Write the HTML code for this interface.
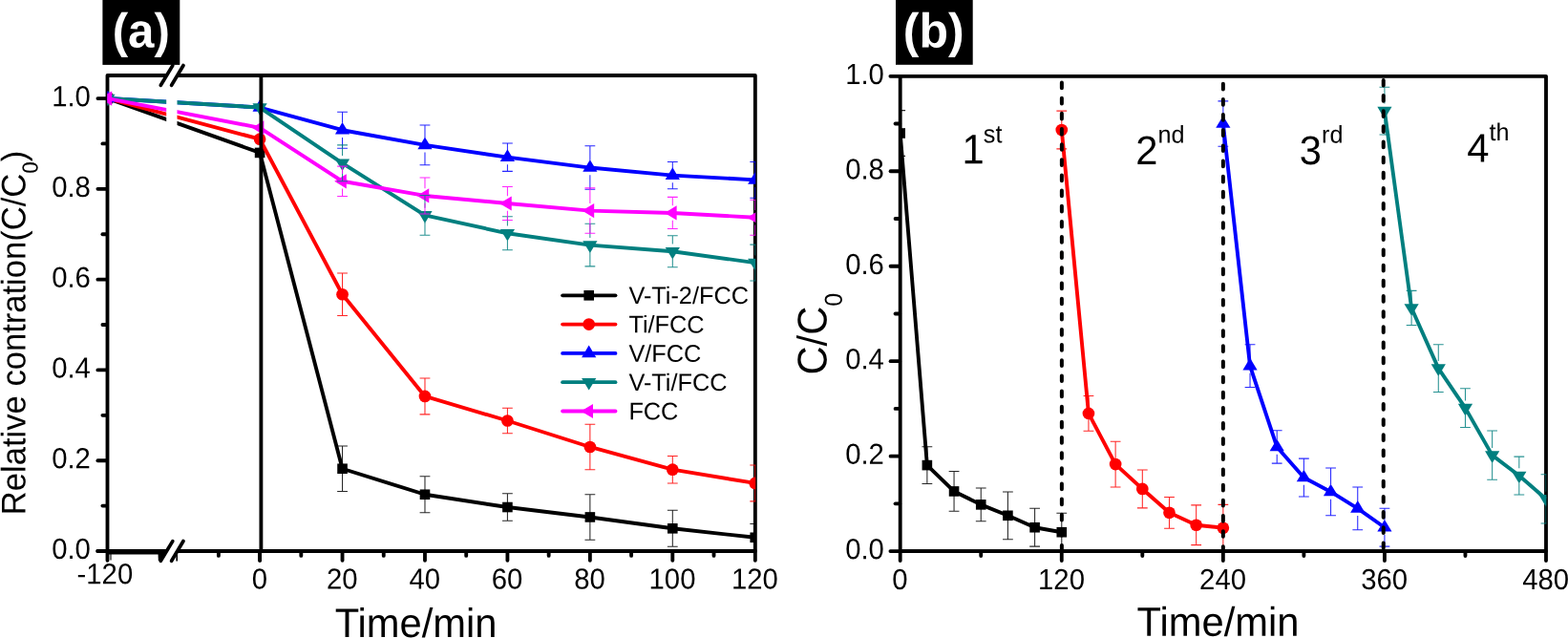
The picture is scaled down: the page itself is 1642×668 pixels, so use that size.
<!DOCTYPE html>
<html lang="en"><head><meta charset="utf-8"><title>Photocatalytic degradation curves</title>
<style>html,body{margin:0;padding:0;background:#fff}body{width:1642px;height:668px;overflow:hidden}svg{display:block}</style>
</head><body>
<svg width="1642" height="668" viewBox="0 0 1642 668" font-family='"Liberation Sans", sans-serif' fill="#000" text-rendering="geometricPrecision">
<rect width="1642" height="668" fill="#fff"/>
<defs>
<clipPath id="ca"><rect x="112.3" y="79.0" width="678.95" height="500.0"/></clipPath>
<clipPath id="cb"><rect x="942.5" y="79.8" width="676.9" height="499.3"/></clipPath>
</defs>
<g stroke="#000" stroke-width="3.85" fill="none" stroke-linecap="round" stroke-linejoin="round">
<path d="M112.5,586.7V79.0H790.85V586.7"/>
<path d="M102.2,577.0H790.85" stroke-linecap="round"/>
<path d="M272.10,577.0V586.7"/>
<path d="M102.4,577.00H111.9"/>
<path d="M107.4,529.61H111.9"/>
<path d="M102.4,482.21H111.9"/>
<path d="M107.4,434.81H111.9"/>
<path d="M102.4,387.42H111.9"/>
<path d="M107.4,340.02H111.9"/>
<path d="M102.4,292.63H111.9"/>
<path d="M107.4,245.24H111.9"/>
<path d="M102.4,197.84H111.9"/>
<path d="M107.4,150.44H111.9"/>
<path d="M102.4,103.05H111.9"/>
<path d="M228.88,577.6V581.9"/>
<path d="M272.10,577.6V586.7"/>
<path d="M315.32,577.6V581.9"/>
<path d="M358.54,577.6V586.7"/>
<path d="M401.76,577.6V581.9"/>
<path d="M444.98,577.6V586.7"/>
<path d="M488.20,577.6V581.9"/>
<path d="M531.42,577.6V586.7"/>
<path d="M574.65,577.6V581.9"/>
<path d="M617.87,577.6V586.7"/>
<path d="M661.09,577.6V581.9"/>
<path d="M704.31,577.6V586.7"/>
<path d="M747.53,577.6V581.9"/>
</g>
<path d="M112.5,577.8H171" stroke="#000" stroke-width="5.2" fill="none"/>
<polygon points="165.5,579 173.5,579 168.3,587.5 165.8,587" fill="#000"/>
<path d="M185.2,578V587.5" stroke="#000" stroke-width="1.6" fill="none"/>
<path d="M116,579V586.5" stroke="#000" stroke-width="1.1" fill="none"/>
<g clip-path="url(#ca)">
<polyline points="112.90,103.05 272.10,159.92 358.54,490.74 444.98,517.76 531.42,531.03 617.87,541.45 704.31,553.30 790.75,562.78" fill="none" stroke="#000" stroke-width="3.9" stroke-linejoin="round"/>
<rect x="107.60" y="97.75" width="10.60" height="10.60" fill="#000"/>
<rect x="266.80" y="154.62" width="10.60" height="10.60" fill="#000"/>
<rect x="353.24" y="485.44" width="10.60" height="10.60" fill="#000"/>
<rect x="439.68" y="512.46" width="10.60" height="10.60" fill="#000"/>
<rect x="526.12" y="525.73" width="10.60" height="10.60" fill="#000"/>
<rect x="612.57" y="536.15" width="10.60" height="10.60" fill="#000"/>
<rect x="699.01" y="548.00" width="10.60" height="10.60" fill="#000"/>
<rect x="785.45" y="557.48" width="10.60" height="10.60" fill="#000"/>
<polyline points="112.90,103.05 272.10,145.71 358.54,308.27 444.98,414.91 531.42,440.50 617.87,467.99 704.31,491.69 790.75,505.91" fill="none" stroke="#ff0000" stroke-width="3.9" stroke-linejoin="round"/>
<circle cx="112.90" cy="103.05" r="6.35" fill="#ff0000"/>
<circle cx="272.10" cy="145.71" r="6.35" fill="#ff0000"/>
<circle cx="358.54" cy="308.27" r="6.35" fill="#ff0000"/>
<circle cx="444.98" cy="414.91" r="6.35" fill="#ff0000"/>
<circle cx="531.42" cy="440.50" r="6.35" fill="#ff0000"/>
<circle cx="617.87" cy="467.99" r="6.35" fill="#ff0000"/>
<circle cx="704.31" cy="491.69" r="6.35" fill="#ff0000"/>
<circle cx="790.75" cy="505.91" r="6.35" fill="#ff0000"/>
<polyline points="112.90,103.05 272.10,112.53 358.54,136.23 444.98,151.87 531.42,164.66 617.87,175.56 704.31,183.62 790.75,188.36" fill="none" stroke="#0000ff" stroke-width="3.9" stroke-linejoin="round"/>
<polygon points="112.90,94.75 120.50,107.35 105.30,107.35" fill="#0000ff"/>
<polygon points="272.10,104.23 279.70,116.83 264.50,116.83" fill="#0000ff"/>
<polygon points="358.54,127.93 366.14,140.53 350.94,140.53" fill="#0000ff"/>
<polygon points="444.98,143.57 452.58,156.17 437.38,156.17" fill="#0000ff"/>
<polygon points="531.42,156.36 539.02,168.96 523.82,168.96" fill="#0000ff"/>
<polygon points="617.87,167.26 625.47,179.86 610.27,179.86" fill="#0000ff"/>
<polygon points="704.31,175.32 711.91,187.92 696.71,187.92" fill="#0000ff"/>
<polygon points="790.75,180.06 798.35,192.66 783.15,192.66" fill="#0000ff"/>
<polyline points="112.90,103.05 272.10,112.53 358.54,170.82 444.98,225.33 531.42,244.29 617.87,256.61 704.31,263.25 790.75,275.09" fill="none" stroke="#007f7f" stroke-width="3.9" stroke-linejoin="round"/>
<polygon points="112.90,111.35 120.50,98.75 105.30,98.75" fill="#007f7f"/>
<polygon points="272.10,120.83 279.70,108.23 264.50,108.23" fill="#007f7f"/>
<polygon points="358.54,179.12 366.14,166.52 350.94,166.52" fill="#007f7f"/>
<polygon points="444.98,233.63 452.58,221.03 437.38,221.03" fill="#007f7f"/>
<polygon points="531.42,252.59 539.02,239.99 523.82,239.99" fill="#007f7f"/>
<polygon points="617.87,264.91 625.47,252.31 610.27,252.31" fill="#007f7f"/>
<polygon points="704.31,271.55 711.91,258.95 696.71,258.95" fill="#007f7f"/>
<polygon points="790.75,283.39 798.35,270.79 783.15,270.79" fill="#007f7f"/>
<polyline points="112.90,103.05 272.10,133.86 358.54,189.78 444.98,204.95 531.42,213.01 617.87,220.59 704.31,222.96 790.75,227.70" fill="none" stroke="#ff00ff" stroke-width="3.9" stroke-linejoin="round"/>
<polygon points="104.60,103.05 117.20,95.45 117.20,110.65" fill="#ff00ff"/>
<polygon points="263.80,133.86 276.40,126.26 276.40,141.46" fill="#ff00ff"/>
<polygon points="350.24,189.78 362.84,182.18 362.84,197.38" fill="#ff00ff"/>
<polygon points="436.68,204.95 449.28,197.35 449.28,212.55" fill="#ff00ff"/>
<polygon points="523.12,213.01 535.72,205.41 535.72,220.61" fill="#ff00ff"/>
<polygon points="609.57,220.59 622.17,212.99 622.17,228.19" fill="#ff00ff"/>
<polygon points="696.01,222.96 708.61,215.36 708.61,230.56" fill="#ff00ff"/>
<polygon points="782.45,227.70 795.05,220.10 795.05,235.30" fill="#ff00ff"/>
<path d="M353.14,467.04H363.94M353.14,514.44H363.94M358.54,467.04V514.44" stroke="#000" stroke-width="1.05" fill="none" opacity="0.85"/>
<path d="M439.58,498.80H450.38M439.58,536.71H450.38M444.98,498.80V536.71" stroke="#000" stroke-width="1.05" fill="none" opacity="0.85"/>
<path d="M526.02,516.81H536.82M526.02,545.25H536.82M531.42,516.81V545.25" stroke="#000" stroke-width="1.05" fill="none" opacity="0.85"/>
<path d="M612.47,517.76H623.27M612.47,565.15H623.27M617.87,517.76V565.15" stroke="#000" stroke-width="1.05" fill="none" opacity="0.85"/>
<path d="M698.91,534.34H709.71M698.91,572.26H709.71M704.31,534.34V572.26" stroke="#000" stroke-width="1.05" fill="none" opacity="0.85"/>
<path d="M785.35,548.56H796.15M785.35,577.00H796.15M790.75,548.56V577.00" stroke="#000" stroke-width="1.05" fill="none" opacity="0.85"/>
<path d="M353.14,285.99H363.94M353.14,330.55H363.94M358.54,285.99V330.55" stroke="#ff0000" stroke-width="1.05" fill="none" opacity="0.85"/>
<path d="M439.58,395.95H450.38M439.58,433.87H450.38M444.98,395.95V433.87" stroke="#ff0000" stroke-width="1.05" fill="none" opacity="0.85"/>
<path d="M526.02,427.23H536.82M526.02,453.77H536.82M531.42,427.23V453.77" stroke="#ff0000" stroke-width="1.05" fill="none" opacity="0.85"/>
<path d="M612.47,444.29H623.27M612.47,491.69H623.27M617.87,444.29V491.69" stroke="#ff0000" stroke-width="1.05" fill="none" opacity="0.85"/>
<path d="M698.91,477.47H709.71M698.91,505.91H709.71M704.31,477.47V505.91" stroke="#ff0000" stroke-width="1.05" fill="none" opacity="0.85"/>
<path d="M785.35,486.95H796.15M785.35,524.87H796.15M790.75,486.95V524.87" stroke="#ff0000" stroke-width="1.05" fill="none" opacity="0.85"/>
<path d="M353.14,117.27H363.94M353.14,155.18H363.94M358.54,117.27V128.53M358.54,143.93V155.18" stroke="#0000ff" stroke-width="1.05" fill="none" opacity="0.85"/>
<path d="M439.58,131.01H450.38M439.58,172.72H450.38M444.98,131.01V144.17M444.98,159.57V172.72" stroke="#0000ff" stroke-width="1.05" fill="none" opacity="0.85"/>
<path d="M526.02,149.97H536.82M526.02,179.36H536.82M531.42,149.97V156.96M531.42,172.36V179.36" stroke="#0000ff" stroke-width="1.05" fill="none" opacity="0.85"/>
<path d="M612.47,152.81H623.27M612.47,198.31H623.27M617.87,152.81V167.86M617.87,183.26V198.31" stroke="#0000ff" stroke-width="1.05" fill="none" opacity="0.85"/>
<path d="M698.91,169.40H709.71M698.91,197.84H709.71M704.31,169.40V175.92M704.31,191.32V197.84" stroke="#0000ff" stroke-width="1.05" fill="none" opacity="0.85"/>
<path d="M785.35,169.40H796.15M785.35,207.32H796.15M790.75,169.40V180.66M790.75,196.06V207.32" stroke="#0000ff" stroke-width="1.05" fill="none" opacity="0.85"/>
<path d="M353.14,151.87H363.94M353.14,189.78H363.94M358.54,151.87V163.12M358.54,178.52V189.78" stroke="#007f7f" stroke-width="1.05" fill="none" opacity="0.85"/>
<path d="M439.58,204.48H450.38M439.58,246.18H450.38M444.98,204.48V217.63M444.98,233.03V246.18" stroke="#007f7f" stroke-width="1.05" fill="none" opacity="0.85"/>
<path d="M526.02,226.75H536.82M526.02,261.82H536.82M531.42,226.75V236.59M531.42,251.99V261.82" stroke="#007f7f" stroke-width="1.05" fill="none" opacity="0.85"/>
<path d="M612.47,234.33H623.27M612.47,278.89H623.27M617.87,234.33V248.91M617.87,264.31V278.89" stroke="#007f7f" stroke-width="1.05" fill="none" opacity="0.85"/>
<path d="M698.91,246.66H709.71M698.91,279.83H709.71M704.31,246.66V255.55M704.31,270.95V279.83" stroke="#007f7f" stroke-width="1.05" fill="none" opacity="0.85"/>
<path d="M785.35,256.14H796.15M785.35,294.05H796.15M790.75,256.14V267.39M790.75,282.79V294.05" stroke="#007f7f" stroke-width="1.05" fill="none" opacity="0.85"/>
<path d="M353.14,174.14H363.94M353.14,205.42H363.94M358.54,174.14V182.08M358.54,197.48V205.42" stroke="#ff00ff" stroke-width="1.05" fill="none" opacity="0.85"/>
<path d="M439.58,185.99H450.38M439.58,223.91H450.38M444.98,185.99V197.25M444.98,212.65V223.91" stroke="#ff00ff" stroke-width="1.05" fill="none" opacity="0.85"/>
<path d="M526.02,195.47H536.82M526.02,230.54H536.82M531.42,195.47V205.31M531.42,220.71V230.54" stroke="#ff00ff" stroke-width="1.05" fill="none" opacity="0.85"/>
<path d="M612.47,196.89H623.27M612.47,244.29H623.27M617.87,196.89V212.89M617.87,228.29V244.29" stroke="#ff00ff" stroke-width="1.05" fill="none" opacity="0.85"/>
<path d="M698.91,206.37H709.71M698.91,239.55H709.71M704.31,206.37V215.26M704.31,230.66V239.55" stroke="#ff00ff" stroke-width="1.05" fill="none" opacity="0.85"/>
<path d="M785.35,209.21H796.15M785.35,246.18H796.15M790.75,209.21V220.00M790.75,235.40V246.18" stroke="#ff00ff" stroke-width="1.05" fill="none" opacity="0.85"/>
</g>
<path d="M273.4,79.0V577.0" stroke="#000" stroke-width="3.85" fill="none"/>
<polygon points="174.2,95 185.5,95 185.5,270 174.2,270" fill="#fff"/>
<rect x="174.3" y="76.8" width="11" height="4.4" fill="#fff"/>
<g stroke="#000" stroke-width="3.7" stroke-linecap="round">
<path d="M168.3,89.3L180.8,68.6"/>
<path d="M179.6,89.3L192.0,68.5"/>
</g>
<rect x="174.3" y="574.8" width="11" height="4.4" fill="#fff"/>
<g stroke="#000" stroke-width="3.7" stroke-linecap="round">
<path d="M168.3,587.3L180.8,566.6"/>
<path d="M179.6,587.3L192.0,566.5"/>
</g>
<g>
<text transform="translate(94.90,585.10) rotate(0.03) scale(1.0,1.04)" font-size="29.3" text-anchor="end" >0.0</text>
<text transform="translate(94.90,490.31) rotate(0.03) scale(1.0,1.04)" font-size="29.3" text-anchor="end" >0.2</text>
<text transform="translate(94.90,395.52) rotate(0.03) scale(1.0,1.04)" font-size="29.3" text-anchor="end" >0.4</text>
<text transform="translate(94.90,300.73) rotate(0.03) scale(1.0,1.04)" font-size="29.3" text-anchor="end" >0.6</text>
<text transform="translate(94.90,205.94) rotate(0.03) scale(1.0,1.04)" font-size="29.3" text-anchor="end" >0.8</text>
<text transform="translate(94.90,111.15) rotate(0.03) scale(1.0,1.04)" font-size="29.3" text-anchor="end" >1.0</text>
<text transform="translate(271.80,616.60) rotate(0.03) scale(1.0,1.04)" font-size="29.3" text-anchor="middle" >0</text>
<text transform="translate(358.24,616.60) rotate(0.03) scale(1.0,1.04)" font-size="29.3" text-anchor="middle" >20</text>
<text transform="translate(444.68,616.60) rotate(0.03) scale(1.0,1.04)" font-size="29.3" text-anchor="middle" >40</text>
<text transform="translate(531.12,616.60) rotate(0.03) scale(1.0,1.04)" font-size="29.3" text-anchor="middle" >60</text>
<text transform="translate(617.57,616.60) rotate(0.03) scale(1.0,1.04)" font-size="29.3" text-anchor="middle" >80</text>
<text transform="translate(704.01,616.60) rotate(0.03) scale(1.0,1.04)" font-size="29.3" text-anchor="middle" >100</text>
<text transform="translate(790.45,616.60) rotate(0.03) scale(1.0,1.04)" font-size="29.3" text-anchor="middle" >120</text>
<text transform="translate(80.55,611.30) rotate(0.03) scale(1.0,1.04)" font-size="29.3" text-anchor="start" >-120</text>
</g>
<text transform="translate(435.60,667.00) rotate(0.03) scale(1.0,1.025)" font-size="41.7" text-anchor="middle" >Time/min</text>
<text transform="translate(26.50,348.40) rotate(-89.97) scale(1.0,1.03)" font-size="34.6" text-anchor="middle" >Relative contration(C/C<tspan font-size="22.5" dy="12.5">0</tspan><tspan dy="-12.5">)</tspan></text>
<rect x="107.4" y="0" width="80.9" height="67.9" fill="#000"/>
<text transform="translate(147.80,49.50) rotate(0.03) scale(1.025,1.06)" font-size="48" text-anchor="middle" font-weight="bold" fill="#fff">(a)</text>
<path d="M589.1,309.30H644.5" stroke="#000" stroke-width="3.8" stroke-linecap="round"/>
<rect x="611.40" y="304.00" width="10.60" height="10.60" fill="#000"/>
<text transform="translate(658.40,318.05) rotate(0.03) scale(1.0,1.0)" font-size="25.3" text-anchor="start" >V-Ti-2/FCC</text>
<path d="M589.1,339.60H644.5" stroke="#ff0000" stroke-width="3.8" stroke-linecap="round"/>
<circle cx="616.70" cy="339.60" r="6.35" fill="#ff0000"/>
<text transform="translate(658.40,348.35) rotate(0.03) scale(1.0,1.0)" font-size="25.3" text-anchor="start" >Ti/FCC</text>
<path d="M589.1,369.90H644.5" stroke="#0000ff" stroke-width="3.8" stroke-linecap="round"/>
<polygon points="616.70,361.60 624.30,374.20 609.10,374.20" fill="#0000ff"/>
<text transform="translate(658.40,378.65) rotate(0.03) scale(1.0,1.0)" font-size="25.3" text-anchor="start" >V/FCC</text>
<path d="M589.1,400.20H644.5" stroke="#007f7f" stroke-width="3.8" stroke-linecap="round"/>
<polygon points="616.70,408.50 624.30,395.90 609.10,395.90" fill="#007f7f"/>
<text transform="translate(658.40,408.95) rotate(0.03) scale(1.0,1.0)" font-size="25.3" text-anchor="start" >V-Ti/FCC</text>
<path d="M589.1,430.50H644.5" stroke="#ff00ff" stroke-width="3.8" stroke-linecap="round"/>
<polygon points="608.40,430.50 621.00,422.90 621.00,438.10" fill="#ff00ff"/>
<text transform="translate(658.40,439.25) rotate(0.03) scale(1.0,1.0)" font-size="25.3" text-anchor="start" >FCC</text>
<g stroke="#000" stroke-width="3.85" fill="none" stroke-linecap="round" stroke-linejoin="round">
<path d="M942.7,587.1V79.8"/>
<path d="M932.4000000000001,79.8H1619.0V587.1"/>
<path d="M932.4000000000001,577.1H1619.0"/>
<path d="M937.6,527.37H942.1"/>
<path d="M932.6,477.64H942.1"/>
<path d="M937.6,427.91H942.1"/>
<path d="M932.6,378.18H942.1"/>
<path d="M937.6,328.45H942.1"/>
<path d="M932.6,278.72H942.1"/>
<path d="M937.6,228.99H942.1"/>
<path d="M932.6,179.26H942.1"/>
<path d="M937.6,129.53H942.1"/>
<path d="M1027.24,577.7V582.1"/>
<path d="M1111.78,577.7V587.1"/>
<path d="M1196.31,577.7V582.1"/>
<path d="M1280.85,577.7V587.1"/>
<path d="M1365.39,577.7V582.1"/>
<path d="M1449.92,577.7V587.1"/>
<path d="M1534.46,577.7V582.1"/>
</g>
<g clip-path="url(#cb)">
<polyline points="942.70,139.48 970.88,487.09 999.06,514.44 1027.24,528.36 1055.42,539.80 1083.60,552.24 1111.78,557.21" fill="none" stroke="#000" stroke-width="3.9" stroke-linejoin="round"/>
<rect x="937.40" y="134.18" width="10.60" height="10.60" fill="#000"/>
<rect x="965.58" y="481.79" width="10.60" height="10.60" fill="#000"/>
<rect x="993.76" y="509.14" width="10.60" height="10.60" fill="#000"/>
<rect x="1021.94" y="523.06" width="10.60" height="10.60" fill="#000"/>
<rect x="1050.12" y="534.50" width="10.60" height="10.60" fill="#000"/>
<rect x="1078.30" y="546.94" width="10.60" height="10.60" fill="#000"/>
<rect x="1106.48" y="551.91" width="10.60" height="10.60" fill="#000"/>
<polyline points="1111.78,135.99 1139.95,432.88 1168.13,486.09 1196.31,511.95 1224.49,536.82 1252.67,549.75 1280.85,552.73" fill="none" stroke="#ff0000" stroke-width="3.9" stroke-linejoin="round"/>
<circle cx="1111.78" cy="135.99" r="6.35" fill="#ff0000"/>
<circle cx="1139.95" cy="432.88" r="6.35" fill="#ff0000"/>
<circle cx="1168.13" cy="486.09" r="6.35" fill="#ff0000"/>
<circle cx="1196.31" cy="511.95" r="6.35" fill="#ff0000"/>
<circle cx="1224.49" cy="536.82" r="6.35" fill="#ff0000"/>
<circle cx="1252.67" cy="549.75" r="6.35" fill="#ff0000"/>
<circle cx="1280.85" cy="552.73" r="6.35" fill="#ff0000"/>
<polyline points="1280.85,129.53 1309.03,383.15 1337.21,467.94 1365.39,500.02 1393.57,514.94 1421.75,532.34 1449.92,552.24" fill="none" stroke="#0000ff" stroke-width="3.9" stroke-linejoin="round"/>
<polygon points="1280.85,121.23 1288.45,133.83 1273.25,133.83" fill="#0000ff"/>
<polygon points="1309.03,374.85 1316.63,387.45 1301.43,387.45" fill="#0000ff"/>
<polygon points="1337.21,459.64 1344.81,472.24 1329.61,472.24" fill="#0000ff"/>
<polygon points="1365.39,491.72 1372.99,504.32 1357.79,504.32" fill="#0000ff"/>
<polygon points="1393.57,506.64 1401.17,519.24 1385.97,519.24" fill="#0000ff"/>
<polygon points="1421.75,524.04 1429.35,536.64 1414.15,536.64" fill="#0000ff"/>
<polygon points="1449.92,543.94 1457.52,556.53 1442.33,556.53" fill="#0000ff"/>
<polyline points="1449.92,116.10 1478.10,322.48 1506.28,385.64 1534.46,427.16 1562.64,476.65 1590.82,498.03 1619.00,522.40" fill="none" stroke="#007f7f" stroke-width="3.9" stroke-linejoin="round"/>
<polygon points="1449.92,124.40 1457.52,111.80 1442.33,111.80" fill="#007f7f"/>
<polygon points="1478.10,330.78 1485.70,318.18 1470.50,318.18" fill="#007f7f"/>
<polygon points="1506.28,393.94 1513.88,381.34 1498.68,381.34" fill="#007f7f"/>
<polygon points="1534.46,435.46 1542.06,422.86 1526.86,422.86" fill="#007f7f"/>
<polygon points="1562.64,484.95 1570.24,472.35 1555.04,472.35" fill="#007f7f"/>
<polygon points="1590.82,506.33 1598.42,493.73 1583.22,493.73" fill="#007f7f"/>
<polygon points="1619.00,530.70 1626.60,518.10 1611.40,518.10" fill="#007f7f"/>
<path d="M937.30,115.61H948.10M937.30,163.35H948.10M942.70,115.61V163.35" stroke="#000" stroke-width="1.05" fill="none" opacity="0.85"/>
<path d="M965.48,467.69H976.28M965.48,506.48H976.28M970.88,467.69V506.48" stroke="#000" stroke-width="1.05" fill="none" opacity="0.85"/>
<path d="M993.66,493.55H1004.46M993.66,535.33H1004.46M999.06,493.55V535.33" stroke="#000" stroke-width="1.05" fill="none" opacity="0.85"/>
<path d="M1021.84,510.96H1032.64M1021.84,545.77H1032.64M1027.24,510.96V545.77" stroke="#000" stroke-width="1.05" fill="none" opacity="0.85"/>
<path d="M1050.02,514.94H1060.82M1050.02,564.67H1060.82M1055.42,514.94V564.67" stroke="#000" stroke-width="1.05" fill="none" opacity="0.85"/>
<path d="M1078.20,532.34H1089.00M1078.20,572.13H1089.00M1083.60,532.34V572.13" stroke="#000" stroke-width="1.05" fill="none" opacity="0.85"/>
<path d="M1106.38,537.32H1117.18M1106.38,577.10H1117.18M1111.78,537.32V577.10" stroke="#000" stroke-width="1.05" fill="none" opacity="0.85"/>
<path d="M1106.38,116.10H1117.18M1106.38,155.89H1117.18M1111.78,116.10V155.89" stroke="#ff0000" stroke-width="1.05" fill="none" opacity="0.85"/>
<path d="M1134.55,414.48H1145.35M1134.55,451.28H1145.35M1139.95,414.48V451.28" stroke="#ff0000" stroke-width="1.05" fill="none" opacity="0.85"/>
<path d="M1162.73,462.22H1173.53M1162.73,509.96H1173.53M1168.13,462.22V509.96" stroke="#ff0000" stroke-width="1.05" fill="none" opacity="0.85"/>
<path d="M1190.91,492.06H1201.71M1190.91,531.85H1201.71M1196.31,492.06V531.85" stroke="#ff0000" stroke-width="1.05" fill="none" opacity="0.85"/>
<path d="M1219.09,520.41H1229.89M1219.09,553.23H1229.89M1224.49,520.41V553.23" stroke="#ff0000" stroke-width="1.05" fill="none" opacity="0.85"/>
<path d="M1247.27,528.86H1258.07M1247.27,570.64H1258.07M1252.67,528.86V570.64" stroke="#ff0000" stroke-width="1.05" fill="none" opacity="0.85"/>
<path d="M1275.45,528.36H1286.25M1275.45,577.10H1286.25M1280.85,528.36V577.10" stroke="#ff0000" stroke-width="1.05" fill="none" opacity="0.85"/>
<path d="M1275.45,105.86H1286.25M1275.45,153.20H1286.25M1280.85,105.86V121.83M1280.85,137.23V153.20" stroke="#0000ff" stroke-width="1.05" fill="none" opacity="0.85"/>
<path d="M1303.63,360.77H1314.43M1303.63,405.53H1314.43M1309.03,360.77V375.45M1309.03,390.85V405.53" stroke="#0000ff" stroke-width="1.05" fill="none" opacity="0.85"/>
<path d="M1331.81,450.79H1342.61M1331.81,485.10H1342.61M1337.21,450.79V460.24M1337.21,475.64V485.10" stroke="#0000ff" stroke-width="1.05" fill="none" opacity="0.85"/>
<path d="M1359.99,480.13H1370.79M1359.99,519.91H1370.79M1365.39,480.13V492.32M1365.39,507.72V519.91" stroke="#0000ff" stroke-width="1.05" fill="none" opacity="0.85"/>
<path d="M1388.17,490.07H1398.97M1388.17,539.80H1398.97M1393.57,490.07V507.24M1393.57,522.64V539.80" stroke="#0000ff" stroke-width="1.05" fill="none" opacity="0.85"/>
<path d="M1416.35,509.96H1427.15M1416.35,554.72H1427.15M1421.75,509.96V524.64M1421.75,540.04V554.72" stroke="#0000ff" stroke-width="1.05" fill="none" opacity="0.85"/>
<path d="M1444.52,532.34H1455.33M1444.52,572.13H1455.33M1449.92,532.34V544.53M1449.92,559.94V572.13" stroke="#0000ff" stroke-width="1.05" fill="none" opacity="0.85"/>
<path d="M1444.52,91.24H1455.33M1444.52,140.97H1455.33M1449.92,91.24V108.40M1449.92,123.80V140.97" stroke="#007f7f" stroke-width="1.05" fill="none" opacity="0.85"/>
<path d="M1472.70,304.38H1483.50M1472.70,340.58H1483.50M1478.10,304.38V314.78M1478.10,330.18V340.58" stroke="#007f7f" stroke-width="1.05" fill="none" opacity="0.85"/>
<path d="M1500.88,360.77H1511.68M1500.88,410.50H1511.68M1506.28,360.77V377.94M1506.28,393.34V410.50" stroke="#007f7f" stroke-width="1.05" fill="none" opacity="0.85"/>
<path d="M1529.06,406.77H1539.86M1529.06,447.55H1539.86M1534.46,406.77V419.46M1534.46,434.86V447.55" stroke="#007f7f" stroke-width="1.05" fill="none" opacity="0.85"/>
<path d="M1557.24,451.03H1568.04M1557.24,502.26H1568.04M1562.64,451.03V468.95M1562.64,484.35V502.26" stroke="#007f7f" stroke-width="1.05" fill="none" opacity="0.85"/>
<path d="M1585.42,478.14H1596.22M1585.42,517.92H1596.22M1590.82,478.14V490.33M1590.82,505.73V517.92" stroke="#007f7f" stroke-width="1.05" fill="none" opacity="0.85"/>
<path d="M1613.60,496.79H1624.40M1613.60,548.01H1624.40M1619.00,496.79V514.70M1619.00,530.10V548.01" stroke="#007f7f" stroke-width="1.05" fill="none" opacity="0.85"/>
</g>
<path d="M1111.88,86.55V577.1" stroke="#000" stroke-width="4.0" stroke-dasharray="5.7,10.45" stroke-linecap="round" fill="none"/>
<path d="M1280.85,87.8V577.1" stroke="#000" stroke-width="4.0" stroke-dasharray="5.7,10.45" stroke-linecap="round" fill="none"/>
<path d="M1448.72,83.9V577.1" stroke="#000" stroke-width="4.0" stroke-dasharray="5.7,10.45" stroke-linecap="round" fill="none"/>
<path d="M942.7,577.1H1619.0" stroke="#000" stroke-width="3.85" fill="none"/>
<g>
<text transform="translate(925.90,585.30) rotate(0.03) scale(1.0,1.04)" font-size="29.3" text-anchor="end" >0.0</text>
<text transform="translate(925.90,485.84) rotate(0.03) scale(1.0,1.04)" font-size="29.3" text-anchor="end" >0.2</text>
<text transform="translate(925.90,386.38) rotate(0.03) scale(1.0,1.04)" font-size="29.3" text-anchor="end" >0.4</text>
<text transform="translate(925.90,286.92) rotate(0.03) scale(1.0,1.04)" font-size="29.3" text-anchor="end" >0.6</text>
<text transform="translate(925.90,187.46) rotate(0.03) scale(1.0,1.04)" font-size="29.3" text-anchor="end" >0.8</text>
<text transform="translate(925.90,88.00) rotate(0.03) scale(1.0,1.04)" font-size="29.3" text-anchor="end" >1.0</text>
<text transform="translate(942.40,617.00) rotate(0.03) scale(1.0,1.04)" font-size="29.3" text-anchor="middle" >0</text>
<text transform="translate(1111.48,617.00) rotate(0.03) scale(1.0,1.04)" font-size="29.3" text-anchor="middle" >120</text>
<text transform="translate(1280.55,617.00) rotate(0.03) scale(1.0,1.04)" font-size="29.3" text-anchor="middle" >240</text>
<text transform="translate(1449.62,617.00) rotate(0.03) scale(1.0,1.04)" font-size="29.3" text-anchor="middle" >360</text>
<text transform="translate(1618.70,617.00) rotate(0.03) scale(1.0,1.04)" font-size="29.3" text-anchor="middle" >480</text>
</g>
<text transform="translate(1275.50,665.70) rotate(0.03) scale(1.0,1.025)" font-size="41.7" text-anchor="middle" >Time/min</text>
<text transform="translate(865.40,349.70) rotate(-89.97) scale(1.0,1.04)" font-size="41.7" text-anchor="middle" >C/C<tspan font-size="25" dy="15.7">0</tspan></text>
<rect x="938" y="0" width="80.7" height="67.8" fill="#000"/>
<text transform="translate(977.70,49.40) rotate(0.03) scale(1.04,1.06)" font-size="48" text-anchor="middle" font-weight="bold" fill="#fff">(b)</text>
<text transform="translate(1007.50,171.30) rotate(0.03) scale(1.0,1.045)" font-size="41.7" text-anchor="start" >1<tspan font-size="25.2" dx="-0.90" dy="-21.20">st</tspan></text>
<text transform="translate(1189.20,172.10) rotate(0.03) scale(1.0,1.015)" font-size="41.7" text-anchor="start" >2<tspan font-size="25.2" dx="0.00" dy="-22.32">nd</tspan></text>
<text transform="translate(1360.80,172.10) rotate(0.03) scale(1.0,1.015)" font-size="41.7" text-anchor="start" >3<tspan font-size="25.2" dx="0.00" dy="-22.32">rd</tspan></text>
<text transform="translate(1536.20,169.40) rotate(0.03) scale(1.0,1.015)" font-size="41.7" text-anchor="start" >4<tspan font-size="25.2" dx="0.00" dy="-22.07">th</tspan></text>
</svg>
</body></html>
